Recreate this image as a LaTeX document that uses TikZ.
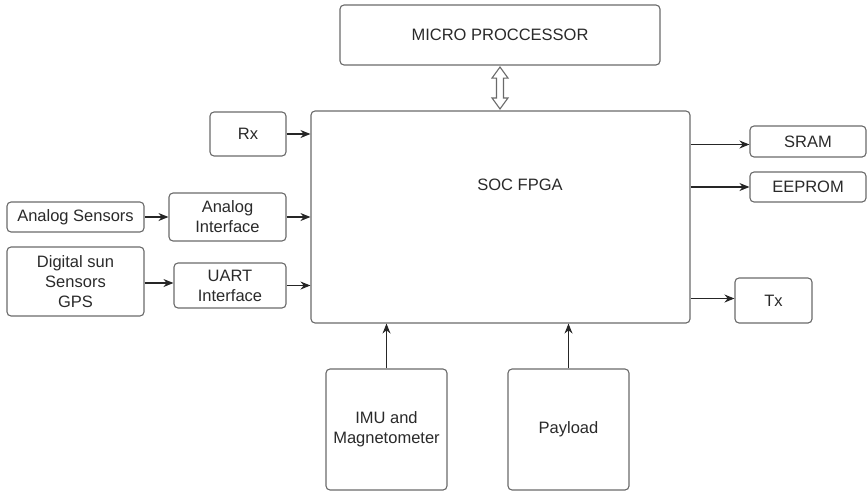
\documentclass[tikz,border=0pt]{standalone}
\usepackage{fontspec}
\setmainfont{Liberation Sans}
\usetikzlibrary{arrows.meta,calc}
\definecolor{boxline}{HTML}{6A6A6A}
\definecolor{inktext}{HTML}{2A2A2A}
\tikzset{
  blk/.style={draw=boxline, line width=1.1pt, rounded corners=4pt, fill=white,
    align=center, inner sep=0pt, text=inktext,
    font=\fontsize{16.5}{20}\selectfont},
  lbl/.style={align=center, inner sep=0pt, text=inktext,
    font=\fontsize{16.5}{20}\selectfont},
  arr/.style={draw=black!85, line width=1.1pt, -{Stealth[length=10pt,width=8pt]}},
  bus/.style={draw=boxline, line width=1.1pt, fill=white, line join=miter}
}
\begin{document}
\begin{tikzpicture}[x=1pt, y=-1pt]
\useasboundingbox (0,0) rectangle (868,491);

% main blocks
\node[blk, minimum width=320pt, minimum height=60pt] (mp) at (500,35) {MICRO PROCCESSOR};
\node[blk, minimum width=379pt, minimum height=212pt] (fpga) at (500.5,217) {};
\node[lbl] (fpgatext) at (520,185) {SOC FPGA};

% inputs on the left
\node[blk, minimum width=76pt,  minimum height=44pt] (rx)    at (248,134)   {Rx};
\node[blk, minimum width=137pt, minimum height=30pt] (asens) at (75.5,217)  {Analog Sensors};
\node[blk, minimum width=117pt, minimum height=48pt] (aif)   at (227.5,217) {Analog\\Interface};
\node[blk, minimum width=137pt, minimum height=69pt] (dsun)  at (75.5,281.5){Digital sun\\Sensors\\GPS};
\node[blk, minimum width=112pt, minimum height=45pt] (uart)  at (230,285.5) {UART\\Interface};

% outputs on the right
\node[blk, minimum width=116pt, minimum height=31pt] (sram)   at (808,141.5) {SRAM};
\node[blk, minimum width=116pt, minimum height=30pt] (eeprom) at (808,187)   {EEPROM};
\node[blk, minimum width=77pt,  minimum height=45pt] (tx)     at (773.5,300.5) {Tx};

% blocks below
\node[blk, minimum width=121pt, minimum height=121pt] (imu)     at (386.5,429.5) {IMU and\\Magnetometer};
\node[blk, minimum width=121pt, minimum height=121pt] (payload) at (568.5,429.5) {Payload};

% two-way bus between processor and FPGA
\coordinate (bt) at ($(mp.south)+(0,1.5)$);
\coordinate (bb) at ($(mp.south |- fpga.north)+(0,-1.5)$);
\draw[bus] (bt) -- ($(bt)+(8,11)$) -- ($(bt)+(3.5,11)$) -- ($(bb)+(3.5,-11)$)
  -- ($(bb)+(8,-11)$) -- (bb) -- ($(bb)+(-8,-11)$) -- ($(bb)+(-3.5,-11)$)
  -- ($(bt)+(-3.5,11)$) -- ($(bt)+(-8,11)$) -- cycle;

% connectors
\draw[arr] (rx.east) -- (rx.east -| fpga.west);
\draw[arr] (asens.east) -- (asens.east -| aif.west);
\draw[arr] (aif.east) -- (aif.east -| fpga.west);
\draw[arr] ($(dsun.east)+(0,1.5)$) -- ($(dsun.east -| uart.west)+(0,1.5)$);
\draw[arr] (uart.east) -- (uart.east -| fpga.west);
\draw[arr] ($(sram.west -| fpga.east)+(0,3)$) -- ($(sram.west)+(0,3)$);
\draw[arr] (eeprom.west -| fpga.east) -- (eeprom.west);
\draw[arr] ($(tx.west -| fpga.east)+(0,-2)$) -- ($(tx.west)+(0,-2)$);
\draw[arr] (imu.north) -- (imu.north |- fpga.south);
\draw[arr] (payload.north) -- (payload.north |- fpga.south);
\end{tikzpicture}
\end{document}
